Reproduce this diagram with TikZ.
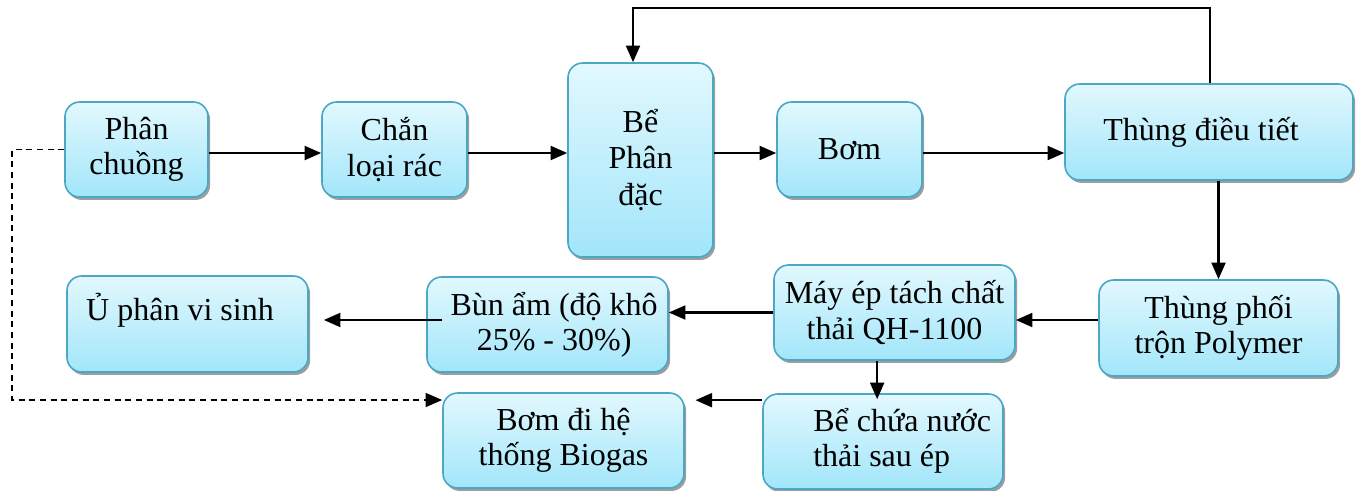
\documentclass[tikz,border=0pt]{standalone}
\usepackage{fontspec}
\setmainfont{Liberation Serif}
\usetikzlibrary{arrows.meta,shadows}
\definecolor{boxtop}{HTML}{E2F8FE}
\definecolor{boxbot}{HTML}{A2E6FA}
\definecolor{boxline}{HTML}{4AA8C4}
\tikzset{
  box/.style={draw=boxline, line width=1.2pt, rounded corners=11pt,
    top color=boxtop, bottom color=boxbot,
    drop shadow={shadow xshift=1.6pt, shadow yshift=-2.2pt, fill=black!55, opacity=0.7},
    inner sep=0pt, align=center, font=\fontsize{24}{26.5}\selectfont},
  lbl/.style={inner sep=0pt, align=left, font=\fontsize{24}{26.5}\selectfont},
  conn/.style={line width=1.7pt, -{Triangle[length=12.5pt,width=10.5pt]}},
  dconn/.style={conn, line width=1.4pt, dash pattern=on 4.5pt off 3.5pt}
}
\begin{document}
\begin{tikzpicture}[x=0.75pt,y=-0.75pt]
\useasboundingbox (0,0) rectangle (1359,490);
% boxes
\node[box, minimum width=107.25pt, minimum height=71.25pt] (A) at (136.5,149.5) {Phân\\chuồng};
\node[box, minimum width=108.75pt, minimum height=71.25pt] (B) at (394.5,149.5) {Chắn\\loại rác};
\node[box, minimum width=108.75pt, minimum height=145.5pt] (C) at (640.5,160) {Bể\\[1pt]Phân\\[1pt]đặc};
\node[box, minimum width=108.75pt, minimum height=71.25pt] (D) at (849.5,149.5) {Bơm};
\node[box, minimum width=216pt, minimum height=72pt] (E) at (1209,132) {\hspace*{-12pt}Thùng điều tiết};
\node[box, minimum width=179.25pt, minimum height=72pt] (F) at (1218.5,328) {Thùng phối\\trộn Polymer};
\node[box, minimum width=180.75pt, minimum height=71.25pt] (G) at (894.5,312.5) {Máy ép tách chất\\thải QH-1100};
\node[box, minimum width=180pt, minimum height=71.25pt] (H) at (883,441.5) {};
\node[lbl, anchor=west] (Ht) at (813,441) {Bể chứa nước\\thải sau ép};
\node[box, minimum width=180.75pt, minimum height=71.25pt] (I) at (547.5,324.5) {\hspace*{10pt}Bùn ẩm (độ khô\\\hspace*{10pt}25\% - 30\%)};
\node[box, minimum width=180.75pt, minimum height=72pt] (J) at (187.5,324) {};
\node[lbl] (Jt) at (180,310) {Ủ phân vi sinh};
\node[box, minimum width=180.75pt, minimum height=71.25pt] (K) at (563.5,440.5) {Bơm đi hệ\\thống Biogas};
% helper coordinates
\coordinate (row) at (0,153);
\coordinate (fbR) at (1210,8);
\coordinate (fbL) at (633,8);
\coordinate (dL) at (12,400);
\coordinate (g1) at ([xshift=-13pt]G.south);
\coordinate (h1) at ([yshift=-4.5pt]H.north);
\coordinate (hs) at ([yshift=31pt]H.west);
\coordinate (ke) at ([xshift=8pt]K.east);
\coordinate (is) at ([xshift=12pt,yshift=3.4pt]I.west);
\coordinate (je) at ([xshift=11.25pt]J.east);
% connectors
\draw[conn] (A.east |- row) -- (B.west |- row);
\draw[conn] (B.east |- row) -- (C.west |- row);
\draw[conn] (C.east |- row) -- (D.west |- row);
\draw[conn] (D.east |- row) -- (E.west |- row);
\draw[conn] (E.north -| fbR) -- (fbR) -- (fbL) -- (fbL |- C.north);
\draw[conn] (E.south -| F.north) -- (F.north);
\draw[conn] ([yshift=6pt]F.west) -- ([yshift=6pt]F.west -| G.east);
\draw[conn] (G.west) -- (G.west -| I.east);
\draw[conn] (is) -- (is -| je);
\draw[conn] (g1) -- (g1 |- h1);
\draw[conn] (hs) -- (hs -| ke);
\draw[dconn] (A.west) -- (A.west -| dL) -- (dL) -- (dL -| K.west);
\end{tikzpicture}
\end{document}
